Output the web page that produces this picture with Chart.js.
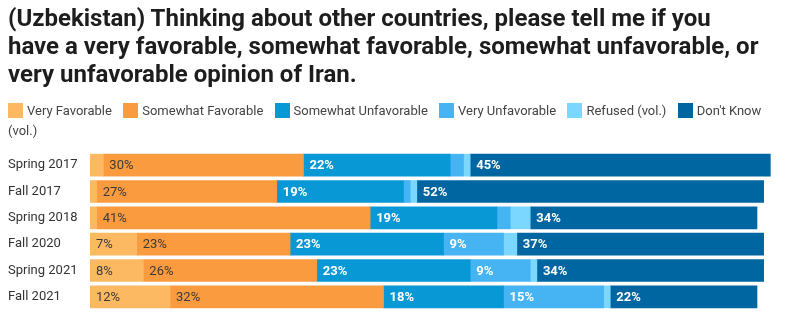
<!DOCTYPE html>
<html>
<head>
<meta charset="utf-8">
<script src="https://cdn.jsdelivr.net/npm/chart.js@4/dist/chart.umd.min.js"></script>
<style>
  html, body { margin: 0; padding: 0; background: #fff; }
  body { width: 788px; height: 328px; position: relative; overflow: hidden; font-family: Roboto, "Noto Sans", sans-serif; }
  #title { position: absolute; left: 8px; top: 4px; width: 756px; font-size: 24px; line-height: 28px; font-weight: bold; color: #1d1d1d; margin: 0; }
  #legend { position: absolute; left: 8px; top: 101px; width: 772px; font-size: 13px; line-height: 20px; color: #444; }
  #legend .item { margin-right: 11.3px; }
  #legend .box { display: inline-block; width: 15px; height: 15px; vertical-align: -3px; margin-right: 4px; }
  #wrap { position: absolute; left: 0; top: 0; width: 788px; height: 328px; }
</style>
</head>
<body>
<div id="wrap"><canvas id="c" width="788" height="328"></canvas></div>
<div id="title">(Uzbekistan) Thinking about other countries, please tell me if you have a very favorable, somewhat favorable, somewhat unfavorable, or very unfavorable opinion of Iran.</div>
<div id="legend"></div>
<script>
const categories = ['Spring 2017', 'Fall 2017', 'Spring 2018', 'Fall 2020', 'Spring 2021', 'Fall 2021'];
const seriesNames = ['Very Favorable', 'Somewhat Favorable', 'Somewhat Unfavorable', 'Very Unfavorable', 'Refused (vol.)', "Don't Know (vol.)"];
const veryFavorable = [2, 1, 1, 7, 8, 12];
const somewhatFavorable = [30, 27, 41, 23, 26, 32];
const somewhatUnfavorable = [22, 19, 19, 23, 23, 18];
const veryUnfavorable = [2, 1, 2, 9, 9, 15];
const refused = [1, 1, 3, 2, 1, 1];
const dontKnow = [45, 52, 34, 37, 34, 22];

const colors = ['#fdb962', '#fa9b40', '#0898d5', '#46b3f2', '#7bd7ff', '#0066a1'];
const labelColors = ['#3a3a3a', '#3a3a3a', '#ffffff', '#ffffff', '#ffffff', '#ffffff'];
const allSeries = [veryFavorable, somewhatFavorable, somewhatUnfavorable, veryUnfavorable, refused, dontKnow];

// HTML legend
const legend = document.getElementById('legend');
seriesNames.forEach((name, i) => {
  const span = document.createElement('span');
  span.className = 'item';
  const box = document.createElement('span');
  box.className = 'box';
  box.style.background = colors[i];
  span.appendChild(box);
  span.appendChild(document.createTextNode(name));
  legend.appendChild(span);
});

const labelPlugin = {
  id: 'barLabels',
  afterDatasetsDraw(chart) {
    const ctx = chart.ctx;
    ctx.save();
    ctx.textBaseline = 'middle';
    ctx.textAlign = 'left';
    chart.data.datasets.forEach((ds, i) => {
      const meta = chart.getDatasetMeta(i);
      meta.data.forEach((bar, j) => {
        const v = ds.data[j];
        if (v < 5) return;
        const p = bar.getProps(['x', 'y', 'base'], true);
        ctx.fillStyle = labelColors[i];
        ctx.font = (i >= 2 ? 'bold ' : '') + '13px Roboto';
        ctx.fillText(v + '%', Math.min(p.base, p.x) + 6, p.y + 1);
      });
    });
    ctx.restore();
  }
};

new Chart(document.getElementById('c'), {
  type: 'bar',
  data: {
    labels: categories,
    datasets: allSeries.map((d, i) => ({
      label: seriesNames[i],
      data: d,
      backgroundColor: colors[i],
      borderWidth: 0,
      barThickness: 22
    }))
  },
  options: {
    indexAxis: 'y',
    responsive: false,
    animation: false,
    devicePixelRatio: 1,
    layout: { padding: { left: 8, top: 152, bottom: 18, right: 11 } },
    plugins: { legend: { display: false }, tooltip: { enabled: false }, title: { display: false } },
    scales: {
      x: { stacked: true, min: 0, max: 103, display: false },
      y: {
        stacked: true,
        grid: { display: false, drawTicks: false },
        border: { display: false },
        ticks: { crossAlign: 'far', color: '#333', font: { family: 'Roboto', size: 13 }, padding: 0 },
        afterFit(scale) { scale.width = 82; }
      }
    }
  },
  plugins: [labelPlugin]
});
</script>
</body>
</html>
